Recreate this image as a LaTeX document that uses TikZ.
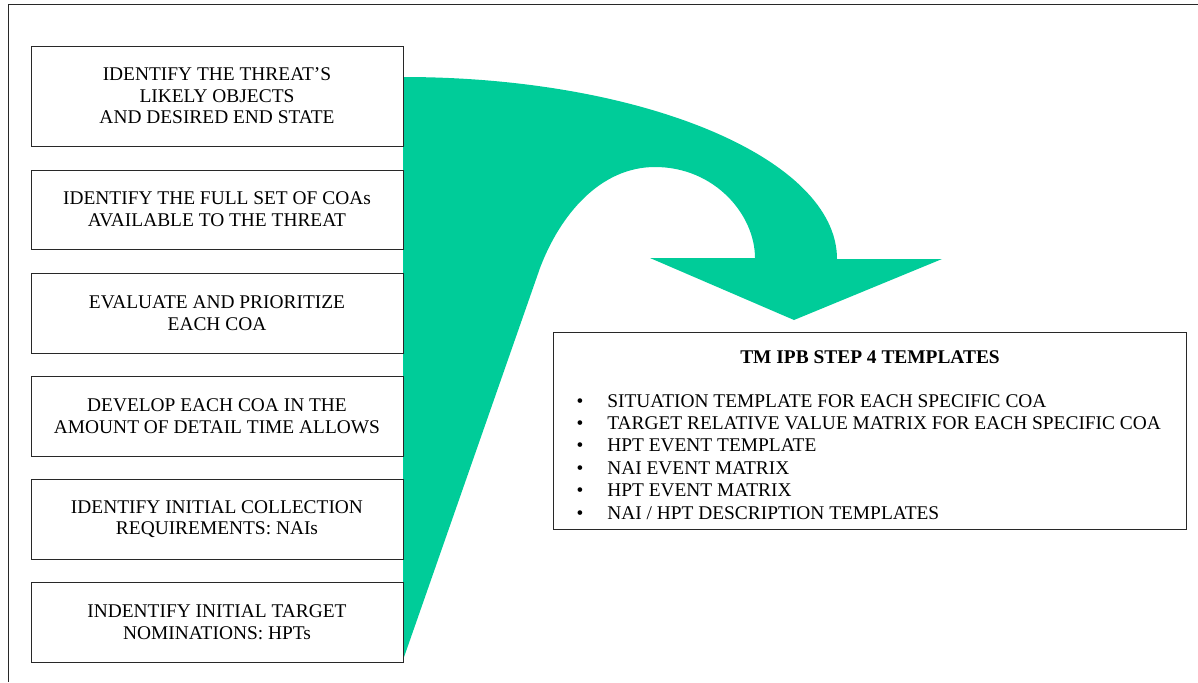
\documentclass[tikz,border=0pt]{standalone}
\usepackage{fontspec}
\setmainfont{Liberation Serif}
\definecolor{arrowgreen}{RGB}{0,204,153}
\definecolor{linegray}{RGB}{40,40,40}
\begin{document}
\begin{tikzpicture}[x=0.75pt,y=-0.75pt,
  txt/.style={font=\fontsize{14.55}{16.2}\selectfont},
  stepbox/.style={txt, draw=linegray, line width=0.75pt, minimum width=279pt, minimum height=60pt, inner sep=0pt, align=center},
  tmbox/.style={draw=linegray, line width=0.75pt, minimum width=474.75pt, minimum height=147.75pt, inner sep=0pt},
  itemtext/.style={txt, anchor=base west, inner sep=0pt},
  bul/.style={txt, anchor=base, inner sep=0pt},
  frame/.style={draw=linegray, line width=0.75pt}
]
\useasboundingbox (0,0) rectangle (1198,682);
% frame
\coordinate (fr1) at (1198,4);
\coordinate (fr2) at (8,4);
\coordinate (fr3) at (8,682);
\draw[frame] (fr1) -- (fr2) -- (fr3);
% green curved arrow
\fill[arrowgreen] (403,77) .. controls (642.7,77) and (837,158.5) .. (837,259)
  -- (942,259) -- (794,320) -- (650,258) -- (755,258)
  .. controls (755,215) and (715,167) .. (655,167)
  .. controls (600,167) and (560,215) .. (540,268)
  -- (403,660) -- cycle;
% left boxes
\node[stepbox, minimum height=75pt] (b1) at (217,96) {IDENTIFY THE THREAT’S\\LIKELY OBJECTS\\AND DESIRED END STATE};
\node[stepbox, minimum height=59.25pt] (b2) at (217,209.5) {IDENTIFY THE FULL SET OF COAs\\AVAILABLE TO THE THREAT};
\node[stepbox] (b3) at (217,313) {EVALUATE AND PRIORITIZE\\EACH COA};
\node[stepbox] (b4) at (217,416) {DEVELOP EACH COA IN THE\\AMOUNT OF DETAIL TIME ALLOWS};
\node[stepbox] (b5) at (217,519) {IDENTIFY INITIAL COLLECTION\\REQUIREMENTS: NAIs};
\node[stepbox] (b6) at (217,622) {INDENTIFY INITIAL TARGET\\NOMINATIONS: HPTs};
% right box
\node[tmbox] (tm) at (869.5,430.5) {};
\node[txt, font=\fontsize{14.55}{16.2}\selectfont\bfseries, anchor=base, inner sep=0pt] (title) at (870,363) {TM IPB STEP 4 TEMPLATES};
\node[bul] (u1) at (580,407) {\textbullet};
\node[itemtext] (i1) at (607,407) {SITUATION TEMPLATE FOR EACH SPECIFIC COA};
\node[bul] (u2) at (580,429.4) {\textbullet};
\node[itemtext] (i2) at (607,429.4) {TARGET RELATIVE VALUE MATRIX FOR EACH SPECIFIC COA};
\node[bul] (u3) at (580,451.8) {\textbullet};
\node[itemtext] (i3) at (607,451.8) {HPT EVENT TEMPLATE};
\node[bul] (u4) at (580,474.2) {\textbullet};
\node[itemtext] (i4) at (607,474.2) {NAI EVENT MATRIX};
\node[bul] (u5) at (580,496.6) {\textbullet};
\node[itemtext] (i5) at (607,496.6) {HPT EVENT MATRIX};
\node[bul] (u6) at (580,519) {\textbullet};
\node[itemtext] (i6) at (607,519) {NAI / HPT DESCRIPTION TEMPLATES};
\end{tikzpicture}
\end{document}
